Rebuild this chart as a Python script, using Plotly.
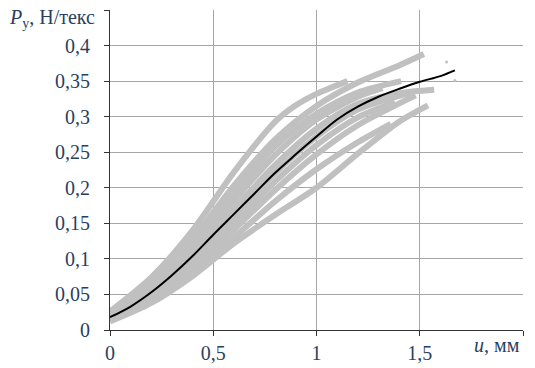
import plotly.graph_objects as go

# ---- data ----
NB = "\u00a0\u00a0"  # padding between y tick labels and ticks
x_ticks = [0, 0.5, 1, 1.5, 2]
x_tick_text = ["0", "0,5", "1", "1,5", ""]
y_ticks = [0, 0.05, 0.1, 0.15, 0.2, 0.25, 0.3, 0.35, 0.4, 0.45]
y_tick_labels = ["0", "0,05", "0,1", "0,15", "0,2", "0,25", "0,3", "0,35", "0,4", ""]
y_tick_text = [t + NB if t else "" for t in y_tick_labels]

# individual test curves (grey)
curve_a_x = [0, 0.2, 0.4, 0.6, 0.8, 0.9, 1.0, 1.15]
curve_a_y = [0.026, 0.074, 0.140, 0.222, 0.293, 0.316, 0.332, 0.350]
curve_b_x = [0, 0.2, 0.4, 0.6, 0.8, 1.0, 1.2, 1.4, 1.52]
curve_b_y = [0.022, 0.066, 0.128, 0.203, 0.268, 0.315, 0.348, 0.372, 0.388]
curve_c_x = [0, 0.2, 0.4, 0.6, 0.8, 1.0, 1.2, 1.41]
curve_c_y = [0.021, 0.062, 0.121, 0.192, 0.258, 0.304, 0.334, 0.350]
curve_d_x = [0, 0.2, 0.4, 0.6, 0.8, 1.0, 1.2, 1.32]
curve_d_y = [0.020, 0.059, 0.115, 0.182, 0.246, 0.296, 0.328, 0.340]
curve_e_x = [0, 0.2, 0.4, 0.6, 0.8, 1.0, 1.2, 1.4, 1.57]
curve_e_y = [0.018, 0.055, 0.108, 0.170, 0.232, 0.283, 0.318, 0.333, 0.338]
curve_f_x = [0, 0.2, 0.4, 0.6, 0.8, 1.0, 1.2, 1.45]
curve_f_y = [0.017, 0.051, 0.101, 0.160, 0.221, 0.272, 0.310, 0.333]
curve_g_x = [0, 0.2, 0.4, 0.6, 0.8, 1.0, 1.2, 1.38]
curve_g_y = [0.016, 0.047, 0.094, 0.150, 0.209, 0.260, 0.299, 0.320]
curve_h_x = [0, 0.2, 0.4, 0.6, 0.8, 1.0, 1.2, 1.48]
curve_h_y = [0.015, 0.044, 0.088, 0.141, 0.197, 0.247, 0.288, 0.330]
curve_l2_x = [0, 0.2, 0.4, 0.6, 0.8, 1.0, 1.2, 1.36]
curve_l2_y = [0.014, 0.041, 0.081, 0.130, 0.181, 0.226, 0.264, 0.290]
curve_l1_x = [0, 0.2, 0.4, 0.6, 0.8, 1.0, 1.2, 1.4, 1.54]
curve_l1_y = [0.012, 0.038, 0.076, 0.122, 0.162, 0.200, 0.248, 0.293, 0.316]

stray_x = [1.63, 1.67]
stray_y = [0.377, 0.351]

# mean curve (black)
mean_x = [0, 0.1, 0.2, 0.3, 0.4, 0.5, 0.6, 0.7, 0.8, 0.9, 1.0, 1.1, 1.2, 1.3, 1.4, 1.5, 1.6, 1.67]
mean_y = [0.018, 0.033, 0.053, 0.077, 0.104, 0.134, 0.163, 0.192, 0.221, 0.247,
          0.272, 0.296, 0.314, 0.328, 0.339, 0.349, 0.357, 0.365]

curves = [
    (curve_a_x, curve_a_y), (curve_b_x, curve_b_y), (curve_c_x, curve_c_y),
    (curve_d_x, curve_d_y), (curve_e_x, curve_e_y), (curve_f_x, curve_f_y),
    (curve_g_x, curve_g_y), (curve_h_x, curve_h_y), (curve_l2_x, curve_l2_y),
    (curve_l1_x, curve_l1_y),
]

GREY = "#c0c0c0"
FONT = "Times New Roman"
FS = 20

fig = go.Figure()
for cx, cy in curves:
    fig.add_trace(go.Scatter(x=cx, y=cy, mode="lines",
                             line=dict(color=GREY, width=6, shape="spline", smoothing=0.8),
                             hoverinfo="skip", showlegend=False))
fig.add_trace(go.Scatter(x=stray_x, y=stray_y, mode="markers",
                         marker=dict(color=GREY, size=3), showlegend=False))
fig.add_trace(go.Scatter(x=mean_x, y=mean_y, mode="lines",
                         line=dict(color="black", width=2, shape="spline"),
                         showlegend=False))

# page body has an 8px margin, so the figure is sized to fit the 535x368 window
fig.update_layout(
    width=527, height=360,
    margin=dict(l=102, r=12, t=2, b=38, autoexpand=False),
    paper_bgcolor="white", plot_bgcolor="white",
    xaxis=dict(range=[0, 2], tickvals=x_ticks, ticktext=x_tick_text,
               showgrid=True, gridcolor="#a6a6a6", gridwidth=1,
               showline=True, linecolor="#333", linewidth=1,
               ticks="outside", ticklen=5, tickcolor="#333",
               tickfont=dict(family=FONT, size=FS),
               zeroline=False),
    yaxis=dict(range=[0, 0.45], tickvals=y_ticks, ticktext=y_tick_text,
               showgrid=True, gridcolor="#a6a6a6", gridwidth=1,
               showline=True, linecolor="#333", linewidth=1,
               ticks="outside", ticklen=5, tickcolor="#333",
               tickfont=dict(family=FONT, size=FS),
               zeroline=False),
    annotations=[
        dict(text="<i>P</i><sub>y</sub>, Н/текс", xref="paper", yref="paper",
             x=-0.0315, y=0.975, xanchor="right", yanchor="middle",
             showarrow=False, font=dict(family=FONT, size=FS)),
        dict(text="<i>u</i>, мм", xref="paper", yref="paper",
             x=0.9976, y=-0.047, xanchor="right", yanchor="middle",
             showarrow=False, font=dict(family=FONT, size=FS)),
    ],
)

fig.write_html("out.html")
